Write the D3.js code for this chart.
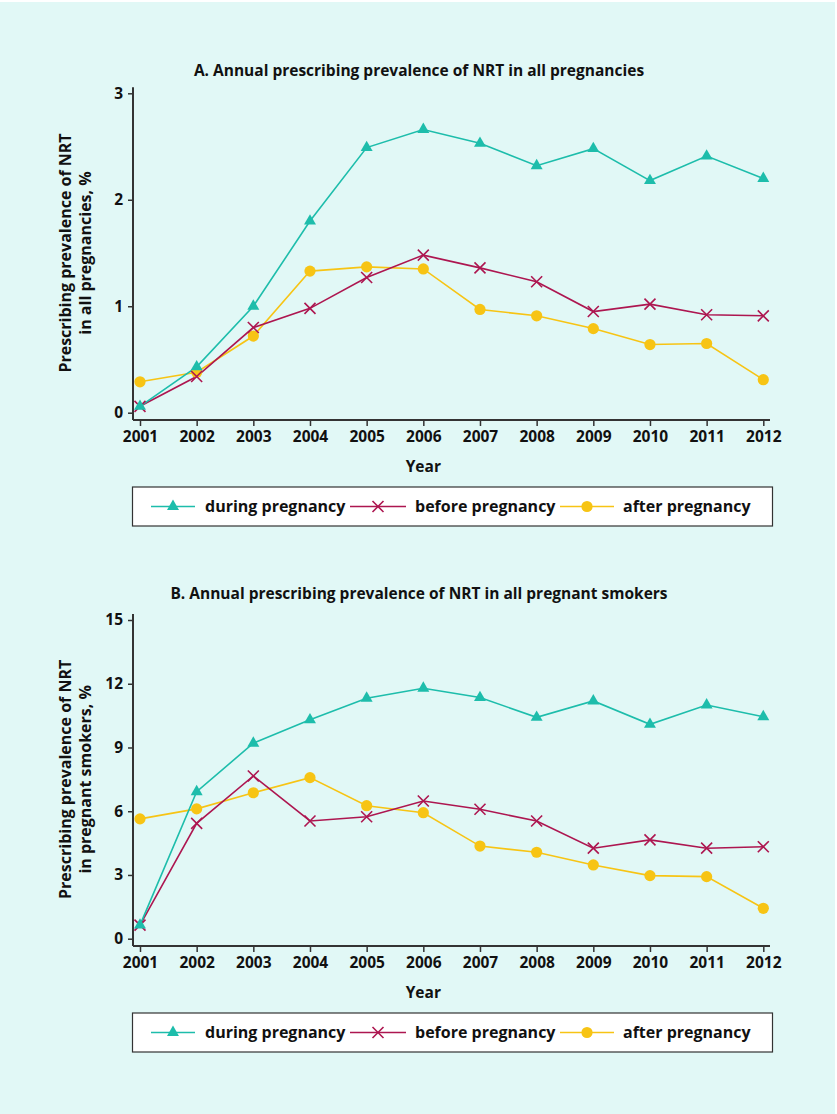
<!DOCTYPE html>
<html><head><meta charset="utf-8">
<script src="https://cdn.jsdelivr.net/npm/d3@7"></script>
<style>
html,body{margin:0;padding:0;background:#fff;}
svg{display:block;}
text{font-family:"Open Sans",Roboto,sans-serif;font-weight:bold;fill:#111;}
</style></head><body>
<script>
const years = [2001,2002,2003,2004,2005,2006,2007,2008,2009,2010,2011,2012];
const seriesNames = ["during pregnancy","before pregnancy","after pregnancy"];
// Panel A: all pregnancies (%)
const duringA = [0.06,0.43,1.00,1.80,2.49,2.66,2.53,2.32,2.48,2.18,2.41,2.20];
const beforeA = [0.06,0.34,0.80,0.98,1.27,1.48,1.36,1.23,0.95,1.02,0.92,0.91];
const afterA  = [0.29,0.38,0.72,1.33,1.37,1.35,0.97,0.91,0.79,0.64,0.65,0.31];
// Panel B: pregnant smokers (%)
const duringB = [0.64,6.92,9.20,10.30,11.32,11.79,11.35,10.42,11.19,10.09,11.00,10.45];
const beforeB = [0.64,5.43,7.66,5.54,5.74,6.48,6.09,5.54,4.26,4.65,4.26,4.33];
const afterB  = [5.64,6.11,6.87,7.58,6.26,5.93,4.36,4.07,3.47,2.97,2.92,1.43];
const ticksA = [0,1,2,3];
const ticksB = [0,3,6,9,12,15];
const titleA = "A. Annual prescribing prevalence of NRT in all pregnancies";
const titleB = "B. Annual prescribing prevalence of NRT in all pregnant smokers";
const ylabA = ["Prescribing prevalence of NRT","in all pregnancies, %"];
const ylabB = ["Prescribing prevalence of NRT","in pregnant smokers, %"];

const colors = ["#1dbdab","#ad1650","#f7c414"];
const W = 837, H = 1114;
const FONT = '"Open Sans",Roboto,sans-serif';
const svg = d3.select("body").append("svg").attr("width",W).attr("height",H);
svg.append("rect").attr("x",0).attr("y",2).attr("width",835).attr("height",H-2).attr("fill","#e1f8f6");

const x = d3.scaleLinear().domain([2001,2012]).range([140,763.3]);

function panel(o){
  const y = d3.scaleLinear().domain([0,o.max]).range([o.y0,o.y1]);
  const g = svg.append("g");
  g.append("text").attr("x",419).attr("y",o.titleY).attr("text-anchor","middle")
    .attr("font-size",15.5).text(o.title);
  const axX = 133, axY = o.y0 + 7.3;
  // y axis
  const ya = g.append("g").attr("transform",`translate(${axX},0)`)
    .call(d3.axisLeft(y).tickValues(o.ticks).tickFormat(d3.format("d")).tickSize(5).tickPadding(5).tickSizeOuter(0));
  ya.select(".domain").remove();
  ya.selectAll("line").attr("stroke","#333").attr("stroke-width",1.5);
  ya.selectAll("text").attr("font-size",15.5).attr("font-family",FONT).attr("font-weight","bold").attr("fill","#111");
  g.append("line").attr("x1",axX).attr("x2",axX).attr("y1",o.y1-6).attr("y2",axY).attr("stroke","#333").attr("stroke-width",2);
  // x axis
  const xa = g.append("g").attr("transform",`translate(0,${axY})`)
    .call(d3.axisBottom(x).tickValues(years).tickFormat(d3.format("d")).tickSize(6).tickPadding(5).tickSizeOuter(0));
  xa.select(".domain").remove();
  xa.selectAll("line").attr("stroke","#333").attr("stroke-width",1.5);
  xa.selectAll("text").attr("font-size",15.5).attr("font-family",FONT).attr("font-weight","bold").attr("fill","#111");
  g.append("line").attr("x1",axX).attr("x2",770).attr("y1",axY).attr("y2",axY).attr("stroke","#333").attr("stroke-width",2);
  g.append("text").attr("x",x(2006)).attr("y",axY+52).attr("text-anchor","middle").attr("font-size",15.5).text("Year");
  // y label
  const cy = (o.y0+o.y1)/2;
  const yl = g.append("text").attr("transform",`translate(71,${cy}) rotate(-90)`).attr("text-anchor","middle").attr("font-size",16);
  yl.append("tspan").attr("x",0).attr("dy",0).text(o.ylab[0]);
  yl.append("tspan").attr("x",0).attr("dy",20).text(o.ylab[1]);
  // series
  const line = d3.line().x((d,i)=>x(years[i])).y(d=>y(d));
  const data = [o.during,o.before,o.after];
  [2,1,0].forEach(k=>{
    g.append("path").attr("d",line(data[k])).attr("fill","none").attr("stroke",colors[k]).attr("stroke-width",1.6);
  });
  [2,1,0].forEach(k=>{
    data[k].forEach((v,i)=>drawMarker(g,k,x(years[i]),y(v)));
  });
  // legend
  const ly = o.legY;
  g.append("rect").attr("x",132.5).attr("y",ly).attr("width",640).attr("height",39).attr("fill","#fff").attr("stroke","#333").attr("stroke-width",1.2);
  const lx = [[151,195,205],[350,406,415],[560,614,623]];
  lx.forEach((p,k)=>{
    const cyl = ly+19.5;
    g.append("line").attr("x1",p[0]).attr("x2",p[1]).attr("y1",cyl).attr("y2",cyl).attr("stroke",colors[k]).attr("stroke-width",1.6);
    drawMarker(g,k,(p[0]+p[1])/2,cyl);
    g.append("text").attr("x",p[2]).attr("y",cyl).attr("dy","0.35em").attr("font-size",16).text(seriesNames[k]);
  });
}

function drawMarker(g,k,cx,cy){
  if(k===0){
    g.append("path").attr("d",d3.symbol(d3.symbolTriangle,62)()).attr("transform",`translate(${cx},${cy})`).attr("fill",colors[0]);
  } else if(k===1){
    const s=5.5;
    g.append("path").attr("d",`M${cx-s},${cy-s}L${cx+s},${cy+s}M${cx-s},${cy+s}L${cx+s},${cy-s}`).attr("stroke",colors[1]).attr("stroke-width",1.6).attr("fill","none");
  } else {
    g.append("circle").attr("cx",cx).attr("cy",cy).attr("r",5.6).attr("fill",colors[2]);
  }
}

panel({max:3,y0:412.7,y1:93.3,ticks:ticksA,title:titleA,titleY:76,ylab:ylabA,
  during:duringA,before:beforeA,after:afterA,legY:487});
panel({max:15,y0:938.7,y1:620,ticks:ticksB,title:titleB,titleY:599,ylab:ylabB,
  during:duringB,before:beforeB,after:afterB,legY:1013});
</script>
</body></html>
